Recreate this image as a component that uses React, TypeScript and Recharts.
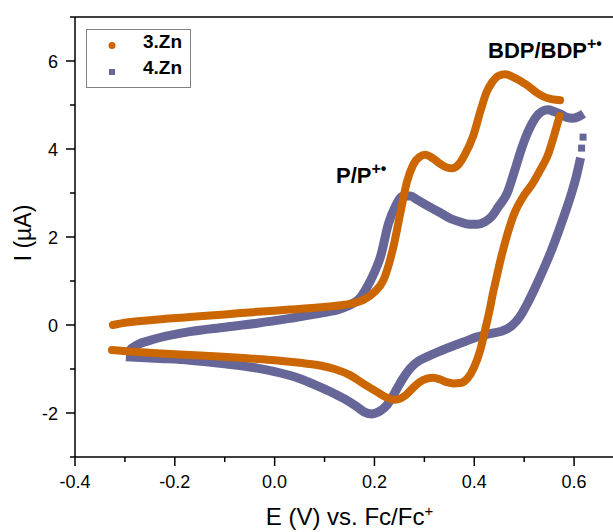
import { ComposedChart, Line, XAxis, YAxis, ReferenceLine } from 'recharts';

const ORANGE = '#cc6600';
const PURPLE = '#666699';
const FONT = '"Liberation Sans", Arial, Helvetica, sans-serif';

// axis ticks
const xTicks = [-0.4, -0.3, -0.2, -0.1, 0, 0.1, 0.2, 0.3, 0.4, 0.5, 0.6, 0.7];
const yTicks = [-3, -2, -1, 0, 1, 2, 3, 4, 5, 6, 7];

// 3.Zn, anodic sweep  [E (V), I (uA)]
const zn3Forward = [
  [-0.324, 0.0], [-0.3, 0.05], [-0.25, 0.11], [-0.17, 0.18], [-0.1, 0.24],
  [-0.035, 0.3], [0.03, 0.35], [0.098, 0.41], [0.14, 0.46], [0.178, 0.57],
  [0.2, 0.75], [0.218, 1.02], [0.238, 1.78], [0.252, 2.55], [0.265, 3.25],
  [0.278, 3.65], [0.29, 3.82], [0.302, 3.87], [0.318, 3.78], [0.332, 3.66],
  [0.345, 3.58], [0.356, 3.56], [0.368, 3.64], [0.38, 3.85], [0.398, 4.3],
  [0.412, 4.85], [0.425, 5.3], [0.436, 5.52], [0.448, 5.66], [0.462, 5.7],
  [0.48, 5.62], [0.506, 5.45], [0.528, 5.26], [0.546, 5.16], [0.572, 5.11],
];

// 3.Zn, cathodic sweep
const zn3Reverse = [
  [0.571, 4.75], [0.563, 4.43], [0.547, 3.85], [0.532, 3.52], [0.516, 3.2],
  [0.5, 2.95], [0.479, 2.5], [0.463, 1.93], [0.452, 1.45], [0.444, 1.05],
  [0.437, 0.7], [0.432, 0.41], [0.422, -0.1], [0.412, -0.57], [0.4, -0.95],
  [0.386, -1.22], [0.372, -1.32], [0.358, -1.33], [0.345, -1.3], [0.332, -1.24],
  [0.318, -1.2], [0.305, -1.22], [0.29, -1.3], [0.278, -1.42], [0.262, -1.6],
  [0.242, -1.7], [0.225, -1.65], [0.205, -1.52], [0.18, -1.35], [0.151, -1.14],
  [0.12, -1.0], [0.091, -0.92], [0.051, -0.86], [0.0, -0.8], [-0.05, -0.76],
  [-0.103, -0.72], [-0.17, -0.68], [-0.236, -0.64], [-0.29, -0.6], [-0.326, -0.57],
];

// 4.Zn, anodic sweep
const zn4Forward = [
  [-0.295, -0.7], [-0.29, -0.58], [-0.275, -0.45], [-0.25, -0.35], [-0.22, -0.26],
  [-0.17, -0.15], [-0.1, -0.05], [-0.035, 0.04], [0.03, 0.15], [0.098, 0.28],
  [0.13, 0.36], [0.155, 0.48], [0.17, 0.6], [0.185, 0.86], [0.2, 1.2],
  [0.212, 1.55], [0.228, 2.3], [0.242, 2.7], [0.258, 2.93], [0.272, 2.93],
  [0.285, 2.85], [0.305, 2.72], [0.332, 2.55], [0.352, 2.42], [0.372, 2.34],
  [0.39, 2.29], [0.406, 2.29], [0.422, 2.35], [0.436, 2.48], [0.448, 2.68],
  [0.466, 3.0], [0.482, 3.55], [0.496, 4.05], [0.51, 4.45], [0.522, 4.7],
  [0.535, 4.85], [0.548, 4.89], [0.56, 4.85], [0.572, 4.8], [0.585, 4.72],
  [0.598, 4.7], [0.61, 4.74], [0.619, 4.8],
];

// 4.Zn, sparse points right after the switching potential
const zn4Vertex = [[0.618, 4.27], [0.615, 4.02]];

// 4.Zn, cathodic sweep
const zn4Reverse = [
  [0.613, 3.8], [0.605, 3.4], [0.595, 3.0], [0.582, 2.55], [0.568, 2.1],
  [0.553, 1.65], [0.538, 1.25], [0.522, 0.85], [0.507, 0.5], [0.492, 0.2],
  [0.475, -0.02], [0.452, -0.15], [0.43, -0.2], [0.406, -0.27], [0.38, -0.38],
  [0.352, -0.5], [0.33, -0.6], [0.306, -0.72], [0.288, -0.82], [0.272, -0.98],
  [0.258, -1.2], [0.245, -1.45], [0.235, -1.65], [0.225, -1.82], [0.212, -1.95],
  [0.195, -2.02], [0.18, -1.98], [0.165, -1.86], [0.14, -1.68], [0.118, -1.55],
  [0.085, -1.38], [0.051, -1.22], [0.0, -1.06], [-0.035, -0.98], [-0.1, -0.88],
  [-0.17, -0.8], [-0.23, -0.76], [-0.298, -0.72],
];

const toPts = (arr: number[][]) => arr.map(([e, i]) => ({ e, i }));

const XTick = (props: any) => {
  const { x, y, payload } = props;
  const v = payload.value;
  const major = Math.round(v * 10) % 2 === 0;
  return (
    <g>
      <line x1={x} x2={x} y1={y} y2={y + (major ? 9 : 5)} stroke="#000" strokeWidth={1.5} />
      {major && (
        <text x={x} y={y + 31} textAnchor="middle" fontSize={18} fontFamily={FONT} fill="#000">
          {v.toFixed(1)}
        </text>
      )}
    </g>
  );
};

const YTick = (props: any) => {
  const { x, y, payload } = props;
  const v = payload.value;
  const major = v % 2 === 0;
  return (
    <g>
      <line x1={x} x2={x - (major ? 9 : 5)} y1={y} y2={y} stroke="#000" strokeWidth={1.5} />
      {major && (
        <text x={x - 17} y={y + 6.5} textAnchor="end" fontSize={18} fontFamily={FONT} fill="#000">
          {v}
        </text>
      )}
    </g>
  );
};

const XTitle = (props: any) => {
  const { x = 75, y = 457, width = 548 } = props.viewBox || {};
  return (
    <text x={x + width / 2} y={y + 68} textAnchor="middle" fontSize={24} fontFamily={FONT} fill="#000">
      E (V) vs. Fc/Fc<tspan dy={-9} fontSize={15}>+</tspan>
    </text>
  );
};

const YTitle = (props: any) => {
  const { y = 17, height = 440 } = props.viewBox || {};
  const cy = y + height / 2 - 4;
  return (
    <text x={31} y={cy} transform={`rotate(-90, 31, ${cy})`} textAnchor="middle" fontSize={23} fontFamily={FONT} fill="#000">
      I (µA)
    </text>
  );
};

const squareDot = (p: any) => (
  <rect key={`sq-${p.index}`} x={p.cx - 3.5} y={p.cy - 3.5} width={7} height={7} fill={PURPLE} />
);

export default function App() {
  return (
    <div style={{ position: 'absolute', left: 0, top: 0, width: 613, height: 532, overflow: 'hidden', background: '#fff' }}>
      <ComposedChart width={650} height={532} margin={{ top: 17, right: 26, bottom: 15, left: 0 }}>
        <XAxis
          type="number"
          dataKey="e"
          domain={[-0.4, 0.7]}
          ticks={xTicks}
          interval={0}
          tick={<XTick />}
          tickLine={false}
          tickSize={0}
          tickMargin={0}
          height={60}
          axisLine={{ stroke: '#000', strokeWidth: 1.5 }}
          label={<XTitle />}
        />
        <YAxis
          type="number"
          domain={[-3, 7]}
          ticks={yTicks}
          interval={0}
          tick={<YTick />}
          tickLine={false}
          tickSize={0}
          tickMargin={0}
          width={75}
          axisLine={{ stroke: '#000', strokeWidth: 1.5 }}
          label={<YTitle />}
        />
        <ReferenceLine y={7} stroke="#000" strokeWidth={1.5} />
        <ReferenceLine x={0.7} stroke="#000" strokeWidth={1.5} />

        <Line data={toPts(zn4Forward)} dataKey="i" type="monotone" stroke={PURPLE} strokeWidth={9}
          strokeLinecap="butt" strokeLinejoin="round" dot={false} activeDot={false} isAnimationActive={false} />
        <Line data={toPts(zn4Reverse)} dataKey="i" type="monotone" stroke={PURPLE} strokeWidth={9}
          strokeLinecap="butt" strokeLinejoin="round" dot={false} activeDot={false} isAnimationActive={false} />
        <Line data={toPts(zn4Vertex)} dataKey="i" stroke="none" dot={squareDot} activeDot={false} isAnimationActive={false} />

        <Line data={toPts(zn3Forward)} dataKey="i" type="monotone" stroke={ORANGE} strokeWidth={8}
          strokeLinecap="round" strokeLinejoin="round" dot={false} activeDot={false} isAnimationActive={false} />
        <Line data={toPts(zn3Reverse)} dataKey="i" type="monotone" stroke={ORANGE} strokeWidth={8}
          strokeLinecap="round" strokeLinejoin="round" dot={false} activeDot={false} isAnimationActive={false} />
      </ComposedChart>

      {/* legend and peak labels */}
      <svg width={613} height={532} style={{ position: 'absolute', left: 0, top: 0, pointerEvents: 'none' }}>
        <rect x={86.5} y={29.5} width={104} height={58} fill="#fff" stroke="#808080" strokeWidth={1} />
        <circle cx={112} cy={45.5} r={3.5} fill={ORANGE} />
        <rect x={109} y={69} width={6} height={6} fill={PURPLE} />
        <text x={143} y={47.5} fontSize={19} fontWeight="bold" fontFamily={FONT} fill="#000">3.Zn</text>
        <text x={143} y={74} fontSize={19} fontWeight="bold" fontFamily={FONT} fill="#000">4.Zn</text>

        <text x={336} y={183} fontSize={22} fontWeight="bold" fontFamily={FONT} fill="#000">
          P/P<tspan dy={-9} fontSize={16}>+•</tspan>
        </text>
        <text x={488} y={58} fontSize={22} fontWeight="bold" fontFamily={FONT} fill="#000">
          BDP/BDP<tspan dy={-9} fontSize={16}>+•</tspan>
        </text>
      </svg>
    </div>
  );
}
